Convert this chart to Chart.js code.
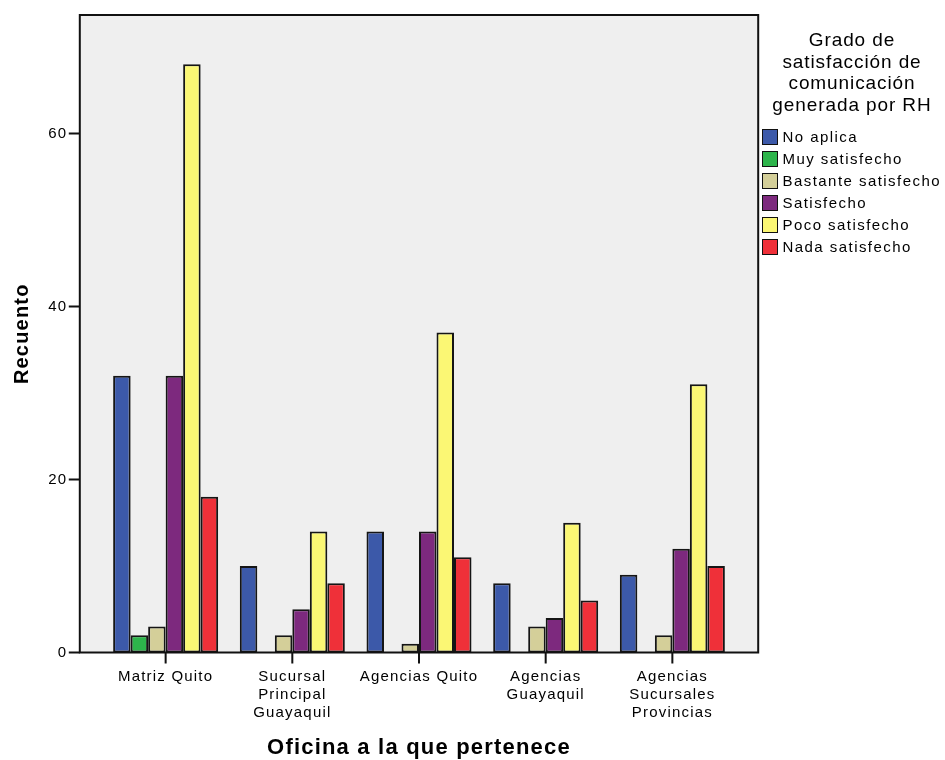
<!DOCTYPE html>
<html lang="es">
<head>
<meta charset="utf-8">
<title>Recuento por oficina</title>
<script src="https://cdn.jsdelivr.net/npm/chart.js@4.4.1/dist/chart.umd.min.js"></script>
<style>
  html, body { margin: 0; padding: 0; background: #fff; }
  #wrap { position: relative; width: 945px; height: 760px; overflow: hidden; font-family: "Liberation Sans", Arial, sans-serif; color: #000; }
  #legend { position: absolute; left: 758px; top: 0; width: 188px; height: 300px; }
  #legend .title { position: absolute; top: 29px; left: 0; width: 188px; text-align: center; font-size: 19px; line-height: 21.7px; letter-spacing: 0.9px; }
  #legend ul { list-style: none; margin: 0; padding: 0; position: absolute; top: 125.5px; left: 4px; }
  #legend li { height: 22px; display: flex; align-items: center; font-size: 15px; letter-spacing: 1.45px; white-space: nowrap; }
  #legend .sw { width: 13.5px; height: 14px; border: 1.5px solid #111; margin-right: 5px; flex: none; }
</style>
</head>
<body>
<div id="wrap">
  <canvas id="chart" width="945" height="760"></canvas>
  <div id="legend">
    <div class="title">Grado de<br>satisfacción de<br>comunicación<br>generada por RH</div>
    <ul id="legendItems"></ul>
  </div>
</div>
<script>
// offices (x categories), one line per array entry
const offices = [
  ['Matriz Quito'],
  ['Sucursal', 'Principal', 'Guayaquil'],
  ['Agencias Quito'],
  ['Agencias', 'Guayaquil'],
  ['Agencias', 'Sucursales', 'Provincias']
];

const levels = ['No aplica', 'Muy satisfecho', 'Bastante satisfecho', 'Satisfecho', 'Poco satisfecho', 'Nada satisfecho'];
const levelColors = ['#3c59a9', '#2db44b', '#d4cf99', '#7d297e', '#fbf774', '#ef3039'];

// counts per office
const noAplica = [32, 10, 14, 8, 9];
const muySatisfecho = [2, 0, 0, 0, 0];
const bastanteSatisfecho = [3, 2, 1, 3, 2];
const satisfecho = [32, 5, 14, 4, 12];
const pocoSatisfecho = [68, 14, 37, 15, 31];
const nadaSatisfecho = [18, 8, 11, 6, 10];

const yTicks = [0, 20, 40, 60];
const yMax = 73.7;

const seriesValues = [noAplica, muySatisfecho, bastanteSatisfecho, satisfecho, pocoSatisfecho, nadaSatisfecho];

// the grey plot box extends a bit past the outer category bands
const inset = 22.5;

const plotFrame = {
  id: 'plotFrame',
  beforeUpdate(chart) {
    chart.ctx.letterSpacing = '1.2px';
  },
  beforeDraw(chart) {
    const { ctx, chartArea: a } = chart;
    ctx.letterSpacing = '1.2px';
    ctx.save();
    ctx.fillStyle = '#efefef';
    ctx.fillRect(a.left - inset, a.top, a.right - a.left + inset * 2, a.bottom - a.top);
    ctx.restore();
  },
  afterDatasetsDraw(chart) {
    const { ctx, chartArea: a, scales } = chart;
    const left = a.left - inset, right = a.right + inset;
    ctx.save();
    ctx.strokeStyle = '#111';
    ctx.lineWidth = 2;
    ctx.strokeRect(left, a.top, right - left, a.bottom - a.top);
    ctx.beginPath();
    scales.y.ticks.forEach(t => {
      const y = scales.y.getPixelForValue(t.value);
      ctx.moveTo(left - 11, y);
      ctx.lineTo(left, y);
    });
    offices.forEach((_, i) => {
      const x = scales.x.getPixelForTick(i);
      ctx.moveTo(x, a.bottom);
      ctx.lineTo(x, a.bottom + 11);
    });
    ctx.stroke();
    ctx.restore();
  }
};

function buildLegend() {
  const list = document.getElementById('legendItems');
  levels.forEach((name, i) => {
    const li = document.createElement('li');
    const sw = document.createElement('span');
    sw.className = 'sw';
    sw.style.background = levelColors[i];
    li.appendChild(sw);
    li.appendChild(document.createTextNode(name));
    list.appendChild(li);
  });
}

const chart = new Chart(document.getElementById('chart'), {
  type: 'bar',
  data: {
    labels: offices,
    datasets: levels.map((name, i) => ({
      label: name,
      data: seriesValues[i],
      backgroundColor: levelColors[i],
      borderColor: '#151515',
      borderWidth: 2,
      borderSkipped: false,
      barPercentage: 1,
      categoryPercentage: 0.829
    }))
  },
  options: {
    responsive: false,
    animation: false,
    layout: { padding: { top: 15, right: 209.3, left: 0, bottom: 0 } },
    font: { family: '"Liberation Sans", Arial, sans-serif' },
    plugins: {
      legend: { display: false },
      tooltip: { enabled: false }
    },
    scales: {
      x: {
        offset: true,
        grid: { display: false, drawTicks: false },
        border: { display: false },
        ticks: {
          color: '#000',
          padding: 15,
          maxRotation: 0,
          autoSkip: false,
          font: { size: 15, family: '"Liberation Sans", Arial, sans-serif', lineHeight: 1.2 }
        },
        title: {
          display: true,
          text: 'Oficina a la que pertenece',
          color: '#000',
          font: { size: 22, weight: 'bold', family: '"Liberation Sans", Arial, sans-serif' },
          padding: { top: 0, bottom: -1 }
        },
        afterFit(s) { s.height = 107.5; }
      },
      y: {
        min: 0,
        max: yMax,
        grid: { display: false, drawTicks: false },
        border: { display: false },
        afterBuildTicks(s) { s.ticks = yTicks.map(v => ({ value: v })); },
        ticks: {
          color: '#000',
          padding: 35,
          includeBounds: false,
          font: { size: 15, family: '"Liberation Sans", Arial, sans-serif' }
        },
        title: {
          display: true,
          text: 'Recuento',
          color: '#000',
          font: { size: 20, weight: 'bold', family: '"Liberation Sans", Arial, sans-serif' },
          padding: { top: 10, bottom: 0 }
        },
        afterFit(s) {
          s.width = 102.3;
          // the wide label gap must not push the plot down
          s.paddingTop = 0;
          s.paddingBottom = 0;
        }
      }
    }
  },
  plugins: [plotFrame]
});

buildLegend();
</script>
</body>
</html>
